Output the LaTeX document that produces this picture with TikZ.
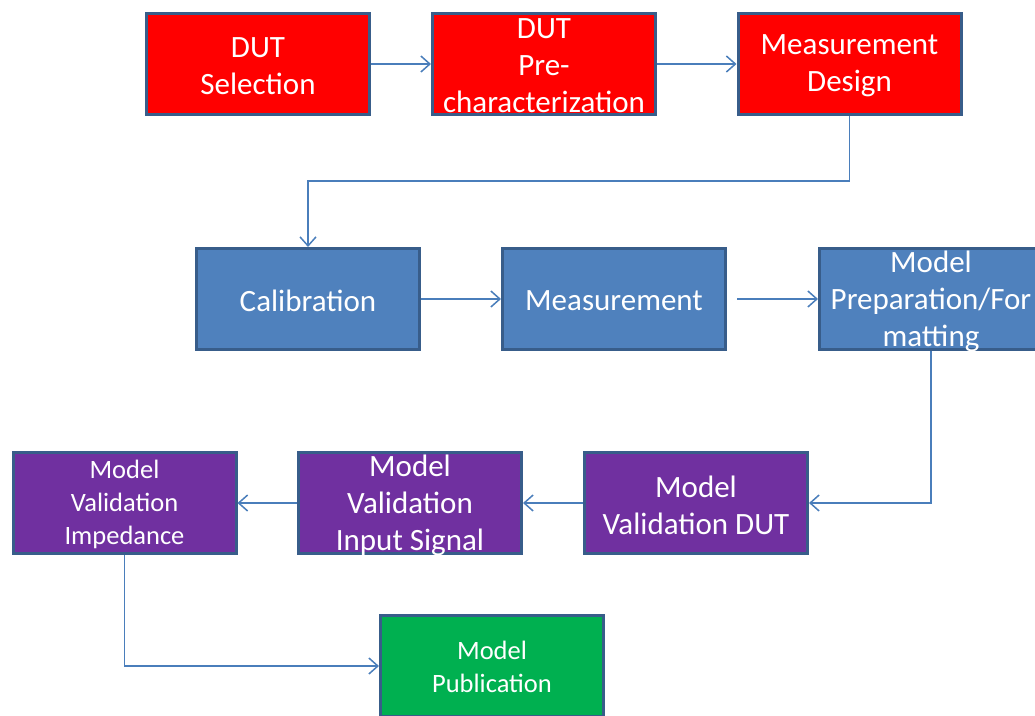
\documentclass[tikz,border=0pt]{standalone}
\usepackage{fontspec}
\setmainfont{Carlito}
\usetikzlibrary{arrows.meta}

\definecolor{stepred}{HTML}{FF0000}
\definecolor{stepblue}{HTML}{4F81BD}
\definecolor{steppurple}{HTML}{7030A0}
\definecolor{stepgreen}{HTML}{00B050}
\definecolor{edgeblue}{HTML}{385D8A}
\definecolor{linkblue}{HTML}{4A7EBB}

\tikzset{
  stepbox/.style={draw=edgeblue, line width=3pt, fill=#1,
    minimum width=223pt, minimum height=101pt, inner sep=0pt},
  bigtxt/.style={text=white, align=center, inner sep=0pt, yshift=-2pt,
    font=\fontsize{31}{37}\selectfont},
  smalltxt/.style={text=white, align=center, inner sep=0pt, yshift=-1pt,
    font=\fontsize{26.5}{33}\selectfont},
  conn/.style={draw=linkblue, line width=1.5pt,
    -{Straight Barb[length=9pt,width=16pt,line width=1.5pt]}}
}

\begin{document}
\begin{tikzpicture}[x=1pt, y=-1pt]
  \useasboundingbox (0,0) rectangle (1035,715);

  % first row: preparation
  \node[stepbox=stepred, label={[bigtxt]center:DUT\\Selection}] (sel) at (258,64) {};
  \node[stepbox=stepred, label={[bigtxt]center:DUT\\Pre-\\characterization}] (pre) at (544,64) {};
  \node[stepbox=stepred, label={[bigtxt]center:Measurement\\Design}] (des) at (849.5,64) {};

  % second row: measurement
  \node[stepbox=stepblue, label={[bigtxt]center:Calibration}] (cal) at (308,299) {};
  \node[stepbox=stepblue, label={[bigtxt]center:Measurement}] (mea) at (614,299) {};
  \node[stepbox=stepblue, label={[bigtxt]center:Model\\Preparation/For\\matting}] (prep) at (931,299) {};

  % third row: validation
  \node[stepbox=steppurple, label={[smalltxt]center:Model\\Validation\\Impedance}] (vimp) at (124.5,503) {};
  \node[stepbox=steppurple, label={[bigtxt]center:Model\\Validation\\Input Signal}] (vsig) at (410,503) {};
  \node[stepbox=steppurple, label={[bigtxt]center:Model\\Validation DUT}] (vdut) at (696,503) {};

  % last step
  \node[stepbox=stepgreen, label={[smalltxt]center:Model\\Publication}] (pub) at (492,666) {};

  % connectors
  \coordinate (turn) at (0,181);
  \draw[conn] (sel.east) -- (pre.west);
  \draw[conn] (pre.east) -- (des.west);
  \draw[conn] (des.south) -- (des.south |- turn) -- (cal.north |- turn) -- (cal.north);
  \draw[conn] (cal.east) -- (mea.west);
  \draw[conn, shorten <=10pt] (mea.east) -- (prep.west);
  \draw[conn] (prep.south) |- (vdut.east);
  \draw[conn] (vdut.west) -- (vsig.east);
  \draw[conn] (vsig.west) -- (vimp.east);
  \draw[conn] (vimp.south) |- (pub.west);
\end{tikzpicture}
\end{document}
